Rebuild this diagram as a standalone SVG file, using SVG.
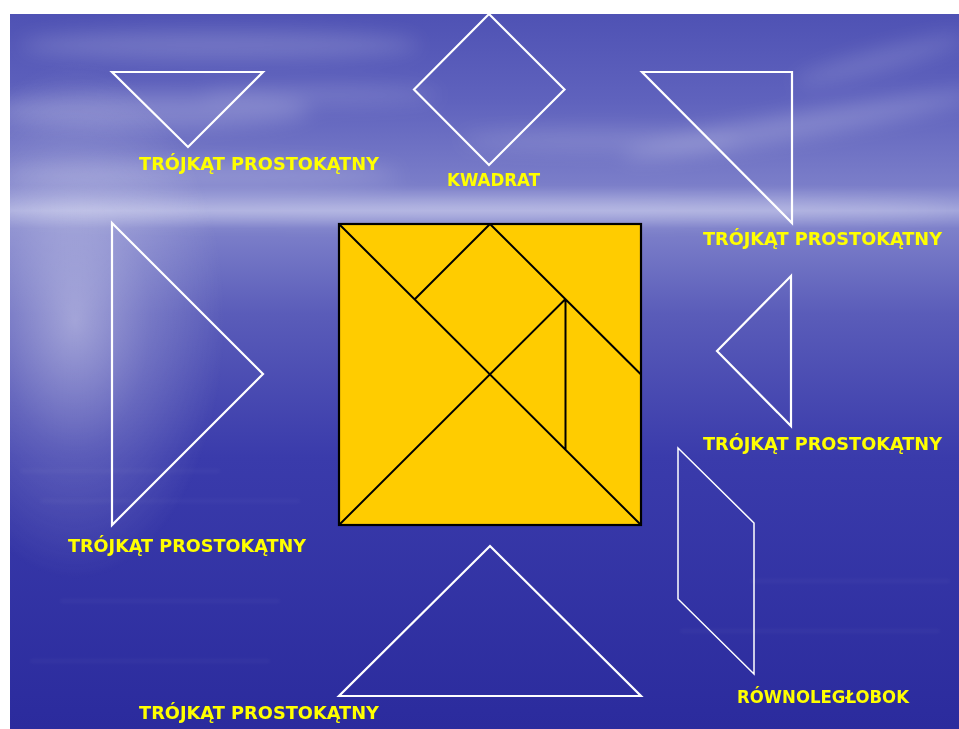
<svg xmlns="http://www.w3.org/2000/svg" width="959" height="729" viewBox="0 0 959 729">
<defs>
<linearGradient id="bg" x1="0" y1="14" x2="0" y2="729" gradientUnits="userSpaceOnUse">
<stop offset="0" stop-color="#4f52b4"/>
<stop offset="0.12" stop-color="#5f62bd"/>
<stop offset="0.24" stop-color="#7b7ec9"/>
<stop offset="0.275" stop-color="#a4a7dc"/>
<stop offset="0.30" stop-color="#7d80ca"/>
<stop offset="0.42" stop-color="#5a5cb9"/>
<stop offset="0.62" stop-color="#3a3bab"/>
<stop offset="1" stop-color="#2b2b9d"/>
</linearGradient>
<radialGradient id="glow" cx="0.5" cy="0.5" r="0.5">
<stop offset="0" stop-color="#ffffff" stop-opacity="0.45"/>
<stop offset="0.5" stop-color="#ffffff" stop-opacity="0.18"/>
<stop offset="1" stop-color="#ffffff" stop-opacity="0"/>
</radialGradient>
<filter id="blur" x="-50%" y="-50%" width="200%" height="200%"><feGaussianBlur stdDeviation="10"/></filter>
<filter id="blur2" x="-50%" y="-50%" width="200%" height="200%"><feGaussianBlur stdDeviation="2"/></filter>
<clipPath id="bgclip"><rect x="10" y="14" width="949" height="715"/></clipPath>
</defs>
<style>
.out{fill:none;stroke:#ffffff;stroke-width:2.2;stroke-linejoin:miter}
.thin{fill:none;stroke:#ffffff;stroke-width:1.5}
.lbl{font-family:"DejaVu Sans","Liberation Sans",sans-serif;font-weight:bold;font-size:18px;fill:#ffff00}
.tan{fill:#ffcc00;stroke:#000000;stroke-width:2.2}
.ln{stroke:#000000;stroke-width:2;fill:none}
</style>
<rect x="0" y="0" width="959" height="729" fill="#ffffff"/>
<g id="background" clip-path="url(#bgclip)">
<rect x="10" y="14" width="949" height="715" fill="url(#bg)"/>
<g filter="url(#blur)" fill="#ffffff">
<ellipse cx="220" cy="45" rx="200" ry="14" opacity="0.18"/>
<ellipse cx="150" cy="110" rx="160" ry="18" opacity="0.2"/>
<ellipse cx="320" cy="95" rx="120" ry="10" opacity="0.15"/>
<ellipse cx="800" cy="125" rx="180" ry="12" opacity="0.2" transform="rotate(-10 800 125)"/>
<ellipse cx="880" cy="60" rx="90" ry="10" opacity="0.15" transform="rotate(-15 880 60)"/>
<ellipse cx="600" cy="140" rx="140" ry="10" opacity="0.15"/>
<ellipse cx="200" cy="175" rx="200" ry="14" opacity="0.18"/>
<ellipse cx="480" cy="210" rx="470" ry="8" opacity="0.3"/>
</g>
<ellipse cx="75" cy="320" rx="150" ry="260" fill="url(#glow)"/>
<g filter="url(#blur2)" fill="#ffffff" opacity="0.07">
<rect x="20" y="470" width="200" height="2"/>
<rect x="40" y="500" width="260" height="2"/>
<rect x="60" y="600" width="220" height="2"/>
<rect x="680" y="630" width="260" height="2"/>
<rect x="750" y="580" width="200" height="2"/>
<rect x="30" y="660" width="240" height="2"/>
</g>
</g>
<g id="tangram-square">
<rect class="tan" x="339" y="224" width="302" height="301"/>
<path class="ln" d="M339 224 L641 525 M339 525 L565.5 299 M490 224 L641 374.5 M490 224 L414.5 299.5 M565.5 299 L565.5 449.5"/>
</g>
<g id="triangle-top-left">
<polygon class="out" points="112,72 263,72 188,147"/>
<text class="lbl" x="139" y="170" textLength="240" lengthAdjust="spacingAndGlyphs">TRÓJKĄT PROSTOKĄTNY</text>
</g>
<g id="square-kwadrat">
<polygon class="out" points="489,14 564.5,89.5 489,165 414,89.5"/>
<text class="lbl" x="447" y="186" textLength="93" lengthAdjust="spacingAndGlyphs">KWADRAT</text>
</g>
<g id="triangle-top-right">
<polygon class="out" points="642,72 792,72 792,223"/>
<text class="lbl" x="703" y="245" textLength="239" lengthAdjust="spacingAndGlyphs">TRÓJKĄT PROSTOKĄTNY</text>
</g>
<g id="triangle-left">
<polygon class="out" points="112,223 263,374 112,525"/>
<text class="lbl" x="68" y="552" textLength="238" lengthAdjust="spacingAndGlyphs">TRÓJKĄT PROSTOKĄTNY</text>
</g>
<g id="triangle-right-small">
<polygon class="out" points="791,276 717,351 791,426"/>
<text class="lbl" x="703" y="450" textLength="239" lengthAdjust="spacingAndGlyphs">TRÓJKĄT PROSTOKĄTNY</text>
</g>
<g id="parallelogram">
<polygon class="thin" points="678,448 754,523 754,674 678,599"/>
<text class="lbl" x="737" y="703" textLength="172" lengthAdjust="spacingAndGlyphs">RÓWNOLEGŁOBOK</text>
</g>
<g id="triangle-bottom">
<polygon class="out" points="490,546 641,696 339,696"/>
<text class="lbl" x="139" y="719" textLength="240" lengthAdjust="spacingAndGlyphs">TRÓJKĄT PROSTOKĄTNY</text>
</g>
<g id="connectors"/>
</svg>
